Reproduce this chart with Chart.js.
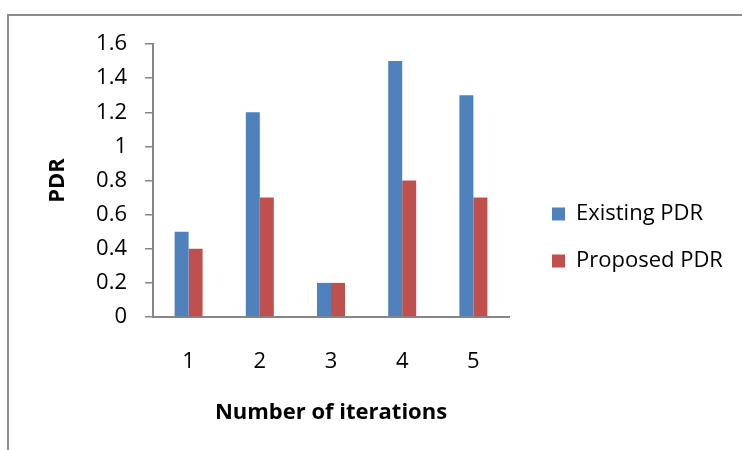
<!DOCTYPE html>
<html>
<head>
<meta charset="utf-8">
<script src="https://cdn.jsdelivr.net/npm/chart.js@4/dist/chart.umd.min.js"></script>
<style>
  html, body { margin: 0; padding: 0; background: #fff; }
  #frame {
    position: absolute; left: 7px; top: 14px; width: 760px; height: 460px;
    border-left: 2px solid #8c8c8c; border-top: 2px solid #8c8c8c;
  }
  #wrap { position: absolute; left: 0; top: 0; width: 742px; height: 450px; }
</style>
</head>
<body>
<div id="frame"></div>
<div id="wrap"><canvas id="pdrChart" width="742" height="450"></canvas></div>
<script>
  // datos
  const iterations = ["1", "2", "3", "4", "5"];
  const existingPDR = [0.5, 1.2, 0.2, 1.5, 1.3];
  const proposedPDR = [0.4, 0.7, 0.2, 0.8, 0.7];
  const seriesNames = ["Existing PDR", "Proposed PDR"];
  const seriesColors = ["#4F81BD", "#C0504D"];

  const axisGray = "#868686";
  const fontFamily = "'Open Sans', Lato, sans-serif";
  const fontSize = 22;

  // ancho fijo para la leyenda (como en Excel)
  const legendWidthPlugin = {
    id: "legendWidth",
    beforeLayout(chart) {
      const lg = chart.legend;
      if (lg && !lg._patched) {
        const origFit = lg.fit.bind(lg);
        lg.fit = function () {
          origFit();
          this.width = 215;
        };
        lg._patched = true;
      }
    },
  };

  new Chart(document.getElementById("pdrChart"), {
    type: "bar",
    data: {
      labels: iterations,
      datasets: [
        {
          label: seriesNames[0],
          data: existingPDR,
          backgroundColor: seriesColors[0],
          yAxisID: "y",
        },
        {
          label: seriesNames[1],
          data: proposedPDR,
          backgroundColor: seriesColors[1],
          yAxisID: "y",
        },
      ],
    },
    options: {
      responsive: false,
      animation: false,
      layout: { padding: { top: 44, bottom: 19, left: 0, right: 0 } },
      datasets: {
        bar: { categoryPercentage: 0.393, barPercentage: 1.0 },
      },
      plugins: {
        legend: {
          position: "right",
          align: "center",
          labels: {
            boxWidth: 13,
            boxHeight: 13,
            padding: 25,
            color: "#000",
            font: { family: fontFamily, size: fontSize },
          },
        },
        tooltip: { enabled: false },
      },
      scales: {
        x: {
          grid: { display: false, drawTicks: false },
          border: { display: true, color: axisGray, width: 2 },
          ticks: {
            color: "#000",
            padding: 32,
            font: { family: fontFamily, size: fontSize },
          },
          title: {
            display: true,
            text: "Number of iterations",
            color: "#000",
            font: { family: fontFamily, size: fontSize, weight: "bold" },
            padding: { top: 0, bottom: 5 },
          },
          afterFit: (s) => { s.height = 114; },
        },
        y: {
          min: 0,
          max: 1.6,
          grid: {
            display: true,
            drawOnChartArea: false,
            drawTicks: true,
            tickLength: 8,
            color: axisGray,
            lineWidth: 1.5,
          },
          border: { display: true, color: axisGray, width: 2 },
          ticks: {
            stepSize: 0.2,
            color: "#000",
            padding: 18,
            font: { family: fontFamily, size: fontSize },
            callback: (v) => String(Number(v.toFixed(1))),
          },
          title: {
            display: true,
            text: "PDR",
            color: "#000",
            font: { family: fontFamily, size: fontSize, weight: "bold" },
            padding: { top: 45, bottom: 0 },
          },
          afterFit: (s) => { s.width = 153; },
        },
        gap: {
          type: "linear",
          position: "right",
          display: true,
          grid: { display: false, drawTicks: false },
          border: { display: false },
          ticks: { display: false },
          afterFit: (s) => { s.width = 18; },
        },
      },
    },
    plugins: [legendWidthPlugin],
  });
</script>
</body>
</html>
